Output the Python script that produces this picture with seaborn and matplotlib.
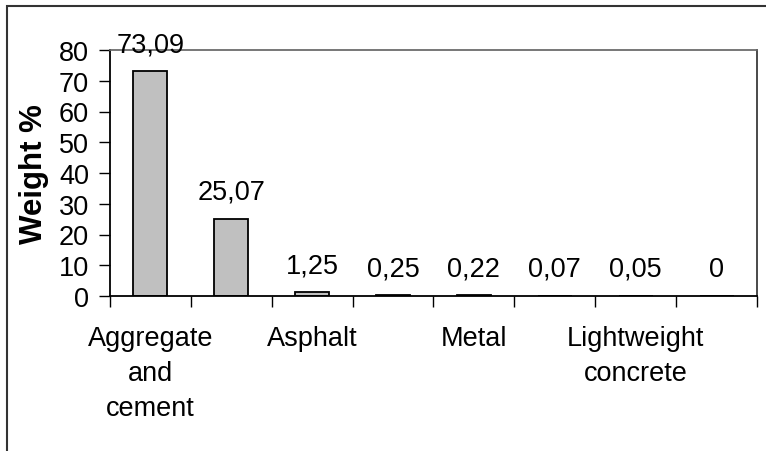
import numpy as np
import pandas as pd
import seaborn as sns
import matplotlib.pyplot as plt
from matplotlib.patches import Rectangle

# data (only every other category is labelled there)
tick_labels = ["Aggregate\nand\ncement", "", "Asphalt", "", "Metal", "",
               "Lightweight\nconcrete", ""]
weights = [73.09, 25.07, 1.25, 0.25, 0.22, 0.07, 0.05, 0]
y_ticks = [0, 10, 20, 30, 40, 50, 60, 70, 80]

sns.set_theme(style="white")
plt.rcParams['font.family'] = ['Liberation Sans', 'DejaVu Sans']
plt.rcParams.update({'text.color': 'black', 'axes.labelcolor': 'black',
                     'xtick.color': 'black', 'ytick.color': 'black'})

df = pd.DataFrame({"cat": np.arange(len(weights)), "weight": weights})

fig = plt.figure(figsize=(7.66, 4.52), dpi=100)
ax = fig.add_axes([110/766, 1-297/452, 647/766, 246/452])

sns.barplot(data=df, x="cat", y="weight", color="#c0c0c0", width=0.42,
            edgecolor="black", linewidth=1.3, saturation=1, ax=ax)

ax.set_xlim(-0.5, len(weights)-0.5)
ax.set_ylim(0, 80)
ax.set_yticks(y_ticks)
ax.tick_params(axis='y', left=True, length=8, width=1, pad=7, labelsize=19.5)

# excel style: ticks between categories, labels centred on them
ax.set_xticks(np.arange(len(weights)+1) - 0.5, labels=[])
ax.set_xticks(np.arange(len(weights)), labels=tick_labels, minor=True)
ax.tick_params(axis='x', which='major', bottom=True, length=8, width=1)
ax.tick_params(axis='x', which='minor', bottom=True, length=0, pad=21, labelsize=19.5)
for t in ax.get_xticklabels(minor=True):
    t.set_linespacing(1.45)

ax.set_xlabel("")
ax.set_ylabel("Weight %", fontsize=22.5, fontweight='bold')
ax.yaxis.set_label_coords(-0.117, 0.5)
ax.yaxis.label.set_va('center')

for s in ['left', 'bottom']:
    ax.spines[s].set_color('black')
    ax.spines[s].set_linewidth(1.3)
ax.spines['top'].set_color('#666666')
ax.spines['right'].set_color('#333333')

for i, v in enumerate(weights):
    ax.annotate(f"{v:g}".replace('.', ','), (i, v), xytext=(0, 19.5),
                textcoords='offset points', ha='center', va='center',
                fontsize=19.5, annotation_clip=False)

# outer chart border (cut off at right and bottom)
fig.patches.append(Rectangle((7/766, -0.2), 1.2, 1.2 - 7/452, transform=fig.transFigure,
                             fill=False, edgecolor='#333333', linewidth=1.5))

fig.savefig("out.png", dpi=100)
